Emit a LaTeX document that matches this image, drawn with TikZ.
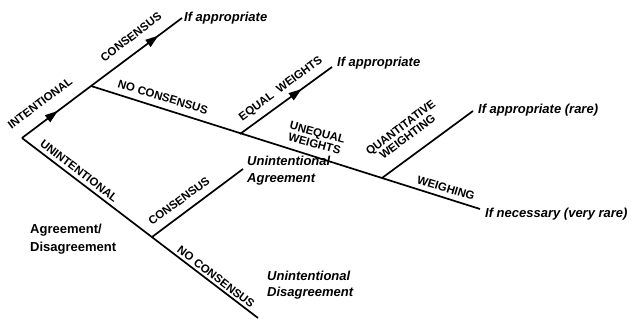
\documentclass[tikz,border=0pt]{standalone}
\usepackage{fontspec}
\setmainfont{Liberation Sans}
\usetikzlibrary{arrows.meta,decorations.markings}
\begin{document}
\begin{tikzpicture}[x=1pt,y=-1pt,
  branch/.style={line width=1.7pt},
  midarrow/.style={postaction={decorate},decoration={markings,mark=at position #1 with {\arrow{Triangle[length=13pt,width=8.5pt]}}}},
  lbl/.style={font=\fontsize{11.5}{11.5}\selectfont\bfseries, inner sep=0pt, align=center},
  outc/.style={font=\fontsize{13}{17}\selectfont\bfseries\itshape, inner sep=0pt, align=left},
  plain/.style={font=\fontsize{13}{18}\selectfont\bfseries, inner sep=0pt, align=left},
]
\useasboundingbox (0,0) rectangle (635,323);
% branch points
\coordinate (root) at (22,138);
\coordinate (ib) at (91,86);
\coordinate (ic) at (182,18);
\coordinate (eb) at (240,134);
\coordinate (ee) at (332,67);
\coordinate (qb) at (382,178);
\coordinate (qe) at (473,111);
\coordinate (we) at (480,209);
\coordinate (ub) at (152,237);
\coordinate (uce) at (243,169);
\coordinate (une) at (258,318);
% connectors
\draw[branch, midarrow=0.52] (root) -- (ib);
\draw[branch, midarrow=0.74] (ib) -- (ic);
\draw[branch] (ib) -- (we);
\draw[branch, midarrow=0.67] (eb) -- (ee);
\draw[branch] (qb) -- (qe);
\draw[branch] (root) -- (une);
\draw[branch] (ub) -- (uce);
% branch labels
\node[lbl, rotate=37] (lint) at (40,103) {INTENTIONAL};
\node[lbl, rotate=37] (lcon1) at (131,37) {CONSENSUS};
\node[lbl, rotate=-17] (lnoc1) at (163,97) {NO CONSENSUS};
\node[lbl, rotate=36.5] (leq) at (281,89) {EQUAL\ \ WEIGHTS};
\node[lbl, rotate=-15] (luneq) at (316,138) {UNEQUAL\\WEIGHTS};
\node[lbl, rotate=37] (lqw) at (404,132) {QUANTITATIVE\\WEIGHTING};
\node[lbl, rotate=-17] (lwg) at (446,188) {WEIGHING};
\node[lbl, rotate=-37.3] (lunint) at (79,171) {UNINTENTIONAL};
\node[lbl, rotate=36.4] (lcon2) at (179,201) {CONSENSUS};
\node[lbl, rotate=-37.3] (lnoc2) at (216,277) {NO CONSENSUS};
% outcomes
\node[outc, anchor=base west] (o1) at (184,22) {If appropriate};
\node[outc, anchor=base west] (o2) at (337,67) {If appropriate};
\node[outc, anchor=base west] (o3) at (478,114) {If appropriate (rare)};
\node[outc, anchor=base west] (o4) at (485,218) {If necessary (very rare)};
\node[outc, anchor=base west] (o5) at (247,183) {Unintentional\\Agreement};
\node[outc, anchor=base west] (o6) at (267,297) {Unintentional\\Disagreement};
\node[plain, anchor=base west] (o7) at (30,252) {Agreement/\\Disagreement};
\end{tikzpicture}
\end{document}
